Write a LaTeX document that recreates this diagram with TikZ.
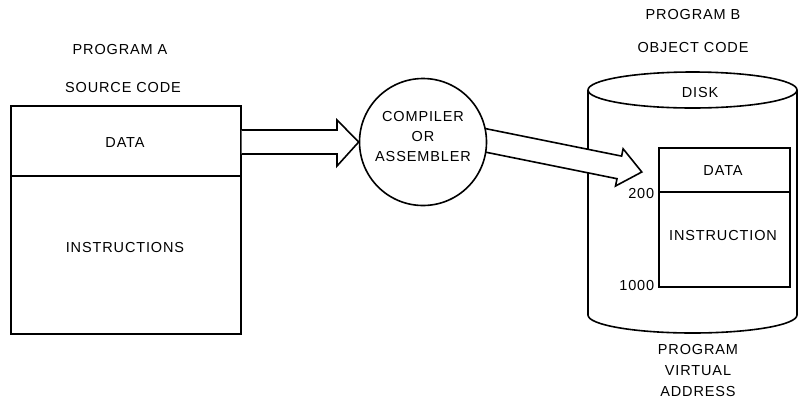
\documentclass[tikz,border=0pt]{standalone}
\usepackage{fontspec}
\setmainfont{Liberation Sans}[LetterSpace=6]
\usetikzlibrary{calc}
\begin{document}
\begin{tikzpicture}[x=1pt,y=-1pt,line width=1.6pt,
  lbl/.style={font=\fontsize{14.5}{17}\selectfont, inner sep=0pt, align=center},
  thin/.style={line width=1.1pt},
  blockarrow/.style={fill=white, draw=black, line width=1.6pt, line join=miter}]
\useasboundingbox (0,0) rectangle (799,400);
% left program A
\node[lbl] (pa) at (120,50) {PROGRAM A};
\node[lbl] (sc) at (123,88) {SOURCE CODE};
\node[draw, minimum width=230pt, minimum height=228pt, anchor=north west, inner sep=0pt] (boxA) at (10,105) {};
\coordinate (divA) at (10,176);
\draw[thin] (divA) -- (divA -| boxA.east);
\node[lbl] (dataA) at (125,143) {DATA};
\node[lbl] (instA) at (125,247) {INSTRUCTIONS};
% disk cylinder
\coordinate (ctop) at (692.5,90);
\coordinate (cbot) at (692.5,315);
\draw (ctop) ellipse [x radius=104.5, y radius=18];
\draw (588,90) -- (588,315) arc[start angle=180, end angle=0, x radius=104.5, y radius=18] -- (797,90);
\node[lbl] (disk) at (700,93) {DISK};
\node[lbl] (pb) at (693,15) {PROGRAM B};
\node[lbl] (oc) at (693,48) {OBJECT CODE};
\node[lbl] (pva) at (698,370) {PROGRAM\\[4pt]VIRTUAL\\[4pt]ADDRESS};
% inner box
\node[draw, minimum width=131pt, minimum height=139pt, anchor=north west, inner sep=0pt] (boxB) at (658,147) {};
\coordinate (divB) at (658,192);
\draw[thin] (divB) -- (divB -| boxB.east);
\node[lbl] (dataB) at (723,171) {DATA};
\node[lbl] (instB) at (723,235) {INSTRUCTION};
\node[lbl, anchor=east] (n200) at (655,194) {200};
\node[lbl, anchor=east] (n1000) at (655,285) {1000};
% arrow 2
\draw[blockarrow] (472.6,126.0) -- (621.6,156.1) -- (623.1,148.8) -- (641.8,172) -- (615.5,186.0) -- (617.0,178.7) -- (468.0,148.6);
% compiler circle
\node[draw, circle, fill=white, minimum size=127pt, inner sep=0pt] (comp) at (423,142) {};
\node[lbl] (ctext) at (423,137) {COMPILER\\[3pt]OR\\[3pt]ASSEMBLER};
% arrow 1
\draw[blockarrow] (boxA.east |- 0,130) -- (337,130) -- (337,120) -- (comp.west) -- (337,166) -- (337,154) -- (boxA.east |- 0,154);
\end{tikzpicture}
\end{document}
